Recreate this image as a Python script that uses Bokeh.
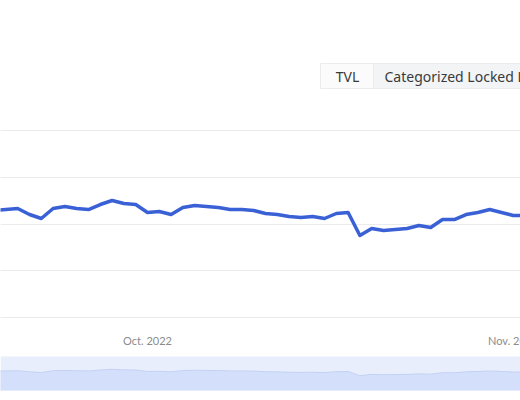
import pandas as pd
from bokeh.plotting import figure
from bokeh.models import Range1d, Grid, FixedTicker
from bokeh.core.properties import value
from bokeh.embed import file_html
from bokeh.resources import INLINE

# ---- data ----
tvl = [22.89, 23.10, 23.32, 22.03, 21.18, 23.32, 23.74, 23.32, 23.10, 24.17,
       25.03, 24.39, 24.17, 22.46, 22.67, 22.03, 23.53, 23.96, 23.74, 23.53,
       23.10, 23.10, 22.89, 22.25, 22.03, 21.60, 21.39, 21.60, 21.18, 22.25,
       22.46, 17.54, 19.04, 18.61, 18.82, 19.04, 19.68, 19.25, 20.96, 20.96,
       22.03, 22.46, 23.10, 22.46, 21.82, 21.82]
dates = pd.date_range("2022-09-18", periods=len(tvl), freq="D")
tick_dates = pd.to_datetime(["2022-10-01", "2022-11-01"])
tick_labels = ["Oct. 2022", "Nov. 2022"]
grid_values = [0, 10, 20, 30, 40]
legend_items = ["TVL", "Categorized Locked Liquidity"]

# ---- layout helpers ----
W, H = 520, 392
oct1 = pd.Timestamp("2022-10-01").value / 1e6
DAY = 86400000.0
PX_PER_DAY = 11.8
OCT_PX = 147.0

def page_x_to_ms(px):
    return oct1 + (px - OCT_PX) / PX_PER_DAY * DAY

p = figure(width=W, height=H,
           x_range=Range1d(page_x_to_ms(0), page_x_to_ms(W)),
           y_range=Range1d(-16.04, 67.81),
           x_axis_type="datetime", x_axis_location=None, y_axis_location=None,
           min_border=0, outline_line_color=None, toolbar_location=None,
           output_backend="svg", background_fill_color="white",
           border_fill_color="white")
for r in list(p.center):
    if isinstance(r, Grid):
        r.visible = False

p.extra_x_ranges = {"px": Range1d(0, W)}
p.extra_y_ranges = {"px": Range1d(H, 0), "mini": Range1d(-2.36, 460.4)}

p.add_layout(Grid(dimension=1, ticker=FixedTicker(ticks=grid_values),
                  grid_line_color="#ebebeb", grid_line_width=1), "center")

# main series
p.line(dates, tvl, line_color="#3a60d6", line_width=3.5, line_join="round")

# x tick labels
p.text(x=tick_dates, y=[340] * len(tick_labels), text=tick_labels,
       y_range_name="px", text_align="center", text_baseline="middle",
       text_font=value("Lato"), text_font_size="11px", text_color="#8c8c8c")

# data-zoom slider
p.quad(left=[0], right=[W], top=[356], bottom=[390],
       x_range_name="px", y_range_name="px",
       fill_color="#e9eefc", line_color=None)
p.varea(x=dates, y1=[0] * len(tvl), y2=tvl, y_range_name="mini",
        fill_color="#d4e0fb")
p.line(dates, tvl, y_range_name="mini", line_color="#c3d2f3", line_width=1)

# legend toggle buttons
p.quad(left=[320, 373], right=[373, 540], top=[63, 63], bottom=[88, 88],
       x_range_name="px", y_range_name="px",
       fill_color=["#fbfbfb", "#f3f4f6"], line_color="#ececec")
p.text(x=[347, 384], y=[76, 76], text=legend_items,
       x_range_name="px", y_range_name="px",
       text_align=["center", "left"], text_baseline="middle",
       text_font=value("Noto Sans"), text_font_size="14px", text_color="#3a3a3a")

open("out.html", "w").write(file_html(p, INLINE))
